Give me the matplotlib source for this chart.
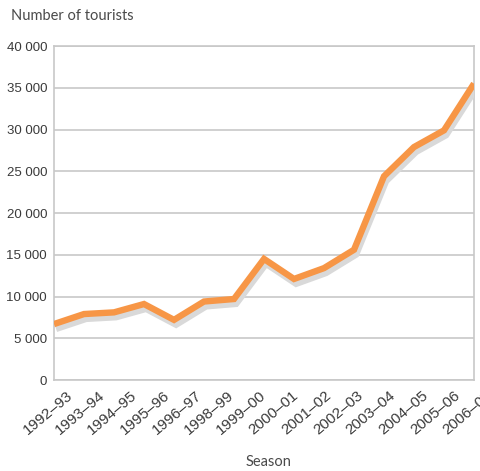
import numpy as np
import matplotlib
import matplotlib.pyplot as plt
import matplotlib.patheffects as pe
from matplotlib.transforms import ScaledTranslation

matplotlib.use('Agg')

# tourists per season (1992-93 .. 2006-07)
tourists = [6700, 7900, 8100, 9100, 7200, 9400, 9700, 14500,
            12100, 13400, 15600, 24400, 27900, 29900, 35500]
season_labels = ['1992–93', '1993–94', '1994–95', '1995–96', '1996–97',
                 '1998–99', '1999–00', '2000–01', '2001–02', '2002–03',
                 '2003–04', '2004–05', '2005–06', '2006–07']
yticks = [0, 5000, 10000, 15000, 20000, 25000, 30000, 35000, 40000]

grid_col = '#c8c8c8'
text_col = '#3a3a3a'
tick_font = 'Liberation Sans'

fig = plt.figure(figsize=(4.8, 4.71), dpi=100)
ax = fig.add_axes([0.1125, 0.1932, 0.875, 0.7091])

x = np.arange(len(tourists))
ax.plot(x, tourists, color='#f79646', lw=4.6, solid_joinstyle='miter',
        solid_capstyle='butt', zorder=3,
        path_effects=[pe.SimpleLineShadow(offset=(1.5, -3.5), shadow_color='#d9d9d9', alpha=1),
                      pe.Normal()])

ax.set_xlim(0, len(tourists) - 1)
ax.set_ylim(0, 40000)
ax.set_yticks(yticks)
ax.set_yticklabels([f'{v:,}'.replace(',', ' ') for v in yticks],
                   fontfamily=tick_font, fontsize=9.5, color=text_col)
ax.set_xticks(np.linspace(0, len(tourists) - 1, len(season_labels)))
ax.set_xticklabels(season_labels, rotation=40, ha='right', va='top',
                   rotation_mode='anchor', fontfamily=tick_font, fontsize=11,
                   color=text_col)
ax.tick_params(length=0)
ax.tick_params(axis='y', pad=5)
ax.tick_params(axis='x', pad=3)

# push the slanted season labels a little to the right
shift = ScaledTranslation(0.12, -0.04, fig.dpi_scale_trans)
for lab in ax.get_xticklabels():
    lab.set_transform(lab.get_transform() + shift)

ax.grid(axis='y', color=grid_col, lw=1.2)
ax.set_axisbelow(True)
for s in ax.spines.values():
    s.set_color(grid_col)
    s.set_linewidth(1.2)

fig.text(11 / 480, 1 - 16 / 471, 'Number of tourists', fontfamily='Lato',
         fontsize=10.5, color='#4a4a4a', va='center', ha='left')
fig.text(269 / 480, 1 - 462 / 471, 'Season', fontfamily='Lato',
         fontsize=10.5, color='#4a4a4a', va='center', ha='center')

fig.savefig('out.png', dpi=100)
